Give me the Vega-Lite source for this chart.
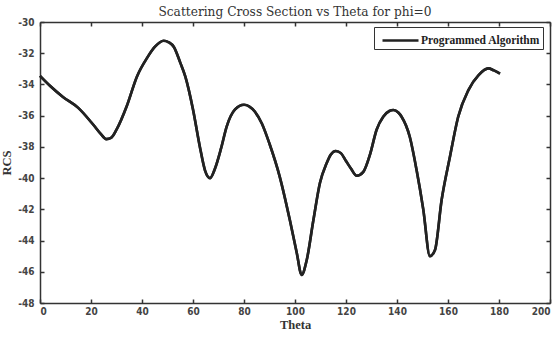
{
  "$schema": "https://vega.github.io/schema/vega-lite/v6.json",
  "autosize": "none",
  "width": 510,
  "height": 281,
  "padding": {"left": 40, "top": 22, "right": 10, "bottom": 37},
  "background": "white",
  "title": {
    "text": "Scattering Cross Section vs  Theta for phi=0",
    "font": "DejaVu Serif",
    "fontSize": 12.2,
    "fontWeight": "normal",
    "color": "#333",
    "anchor": "middle",
    "offset": -1
  },
  "data": {
    "values": [
      {"theta": 0, "rcs": -33.45, "series": "Programmed Algorithm"},
      {"theta": 4, "rcs": -34.1, "series": "Programmed Algorithm"},
      {"theta": 9, "rcs": -34.8, "series": "Programmed Algorithm"},
      {"theta": 15, "rcs": -35.5, "series": "Programmed Algorithm"},
      {"theta": 21, "rcs": -36.6, "series": "Programmed Algorithm"},
      {"theta": 24, "rcs": -37.2, "series": "Programmed Algorithm"},
      {"theta": 26, "rcs": -37.5, "series": "Programmed Algorithm"},
      {"theta": 28, "rcs": -37.4, "series": "Programmed Algorithm"},
      {"theta": 30, "rcs": -36.9, "series": "Programmed Algorithm"},
      {"theta": 34, "rcs": -35.4, "series": "Programmed Algorithm"},
      {"theta": 38, "rcs": -33.5, "series": "Programmed Algorithm"},
      {"theta": 42, "rcs": -32.3, "series": "Programmed Algorithm"},
      {"theta": 45, "rcs": -31.6, "series": "Programmed Algorithm"},
      {"theta": 48.5, "rcs": -31.2, "series": "Programmed Algorithm"},
      {"theta": 50.5, "rcs": -31.3, "series": "Programmed Algorithm"},
      {"theta": 52.5, "rcs": -31.6, "series": "Programmed Algorithm"},
      {"theta": 55, "rcs": -32.6, "series": "Programmed Algorithm"},
      {"theta": 57, "rcs": -33.5, "series": "Programmed Algorithm"},
      {"theta": 60, "rcs": -35.6, "series": "Programmed Algorithm"},
      {"theta": 62.7, "rcs": -38.0, "series": "Programmed Algorithm"},
      {"theta": 64.7, "rcs": -39.5, "series": "Programmed Algorithm"},
      {"theta": 66.7, "rcs": -40.0, "series": "Programmed Algorithm"},
      {"theta": 68.6, "rcs": -39.4, "series": "Programmed Algorithm"},
      {"theta": 71, "rcs": -38.1, "series": "Programmed Algorithm"},
      {"theta": 73.2, "rcs": -36.7, "series": "Programmed Algorithm"},
      {"theta": 76.5, "rcs": -35.6, "series": "Programmed Algorithm"},
      {"theta": 80, "rcs": -35.3, "series": "Programmed Algorithm"},
      {"theta": 82, "rcs": -35.4, "series": "Programmed Algorithm"},
      {"theta": 84.3, "rcs": -35.75, "series": "Programmed Algorithm"},
      {"theta": 87, "rcs": -36.5, "series": "Programmed Algorithm"},
      {"theta": 90, "rcs": -37.8, "series": "Programmed Algorithm"},
      {"theta": 94, "rcs": -39.9, "series": "Programmed Algorithm"},
      {"theta": 98, "rcs": -42.7, "series": "Programmed Algorithm"},
      {"theta": 100.7, "rcs": -44.8, "series": "Programmed Algorithm"},
      {"theta": 102.6, "rcs": -46.2, "series": "Programmed Algorithm"},
      {"theta": 104.6, "rcs": -45.25, "series": "Programmed Algorithm"},
      {"theta": 107.2, "rcs": -42.7, "series": "Programmed Algorithm"},
      {"theta": 109.8, "rcs": -40.3, "series": "Programmed Algorithm"},
      {"theta": 112.4, "rcs": -39.05, "series": "Programmed Algorithm"},
      {"theta": 114, "rcs": -38.5, "series": "Programmed Algorithm"},
      {"theta": 116, "rcs": -38.26, "series": "Programmed Algorithm"},
      {"theta": 118, "rcs": -38.4, "series": "Programmed Algorithm"},
      {"theta": 120, "rcs": -38.9, "series": "Programmed Algorithm"},
      {"theta": 122, "rcs": -39.4, "series": "Programmed Algorithm"},
      {"theta": 124.2, "rcs": -39.85, "series": "Programmed Algorithm"},
      {"theta": 126.8, "rcs": -39.6, "series": "Programmed Algorithm"},
      {"theta": 129.4, "rcs": -38.5, "series": "Programmed Algorithm"},
      {"theta": 132, "rcs": -36.9, "series": "Programmed Algorithm"},
      {"theta": 134.6, "rcs": -36.07, "series": "Programmed Algorithm"},
      {"theta": 137, "rcs": -35.7, "series": "Programmed Algorithm"},
      {"theta": 138.6, "rcs": -35.64, "series": "Programmed Algorithm"},
      {"theta": 140.5, "rcs": -35.8, "series": "Programmed Algorithm"},
      {"theta": 141.8, "rcs": -36.07, "series": "Programmed Algorithm"},
      {"theta": 145, "rcs": -37.35, "series": "Programmed Algorithm"},
      {"theta": 147.7, "rcs": -39.5, "series": "Programmed Algorithm"},
      {"theta": 150.3, "rcs": -42.0, "series": "Programmed Algorithm"},
      {"theta": 152.9, "rcs": -45.0, "series": "Programmed Algorithm"},
      {"theta": 154.9, "rcs": -44.6, "series": "Programmed Algorithm"},
      {"theta": 157.5, "rcs": -41.4, "series": "Programmed Algorithm"},
      {"theta": 160.8, "rcs": -38.6, "series": "Programmed Algorithm"},
      {"theta": 164, "rcs": -36.07, "series": "Programmed Algorithm"},
      {"theta": 168, "rcs": -34.36, "series": "Programmed Algorithm"},
      {"theta": 172, "rcs": -33.4, "series": "Programmed Algorithm"},
      {"theta": 175.8, "rcs": -32.97, "series": "Programmed Algorithm"},
      {"theta": 178, "rcs": -33.1, "series": "Programmed Algorithm"},
      {"theta": 180.4, "rcs": -33.3, "series": "Programmed Algorithm"}
    ]
  },
  "layer": [
    {
      "mark": {"type": "line", "strokeWidth": 2.6, "interpolate": "monotone"},
      "encoding": {
        "x": {
          "field": "theta", "type": "quantitative",
          "scale": {"domain": [0, 200], "nice": false},
          "axis": {
            "orient": "bottom", "values": [0,20,40,60,80,100,120,140,160,180,200],
            "labelExpr": "'' + datum.value",
            "title": "Theta", "titleFont": "Liberation Serif", "titleFontSize": 12.5, "titleFontWeight": "bold",
            "titleColor": "#333", "titlePadding": 2,
            "labelFont": "DejaVu Sans Condensed", "labelFontWeight": "bold", "labelFontSize": 10, "labelColor": "#444",
            "tickSize": -4, "labelPadding": 7, "grid": false,
            "domainColor": "#333", "tickColor": "#333", "domainWidth": 1.5, "tickWidth": 1.5
          }
        },
        "y": {
          "field": "rcs", "type": "quantitative",
          "scale": {"domain": [-48, -30], "nice": false},
          "axis": {
            "orient": "left", "values": [-48,-46,-44,-42,-40,-38,-36,-34,-32,-30],
            "labelExpr": "'' + datum.value",
            "title": "RCS", "titleFont": "Liberation Serif", "titleFontSize": 12.5, "titleFontWeight": "bold",
            "titleColor": "#333", "titlePadding": 4,
            "labelFont": "DejaVu Sans Condensed", "labelFontWeight": "bold", "labelFontSize": 10, "labelColor": "#444",
            "tickSize": -4, "labelPadding": 10, "grid": false,
            "domainColor": "#333", "tickColor": "#333", "domainWidth": 1.5, "tickWidth": 1.5
          }
        },
        "color": {
          "field": "series", "type": "nominal",
          "scale": {"domain": ["Programmed Algorithm"], "range": ["#222222"]},
          "legend": {
            "orient": "none", "legendX": 334, "legendY": 5, "title": null,
            "symbolType": "M-2,0H2", "symbolSize": 324, "symbolStrokeWidth": 2.6, "symbolStrokeColor": "#222",
            "symbolOffset": 13, "labelOffset": 10,
            "labelFont": "Liberation Serif", "labelFontSize": 11.5, "labelColor": "#222", "labelFontWeight": "bold",
            "strokeColor": "#333", "fillColor": "white", "padding": 3, "cornerRadius": 0
          }
        }
      }
    },
    {
      "mark": {"type": "line", "strokeWidth": 2.6, "interpolate": "monotone", "color": "#222222"},
      "encoding": {
        "x": {
          "field": "theta", "type": "quantitative",
          "scale": {"domain": [0, 200], "nice": false},
          "axis": {
            "orient": "top", "values": [0,20,40,60,80,100,120,140,160,180,200],
            "title": null, "labels": false, "tickSize": -4, "grid": false,
            "domainColor": "#333", "tickColor": "#333", "domainWidth": 1.5, "tickWidth": 1.5
          }
        },
        "y": {
          "field": "rcs", "type": "quantitative",
          "scale": {"domain": [-48, -30], "nice": false},
          "axis": {
            "orient": "right", "values": [-48,-46,-44,-42,-40,-38,-36,-34,-32,-30],
            "title": null, "labels": false, "tickSize": -4, "grid": false,
            "domainColor": "#333", "tickColor": "#333", "domainWidth": 1.5, "tickWidth": 1.5
          }
        }
      }
    }
  ],
  "resolve": {"axis": {"x": "independent", "y": "independent"}},
  "config": {"view": {"stroke": null}}
}
